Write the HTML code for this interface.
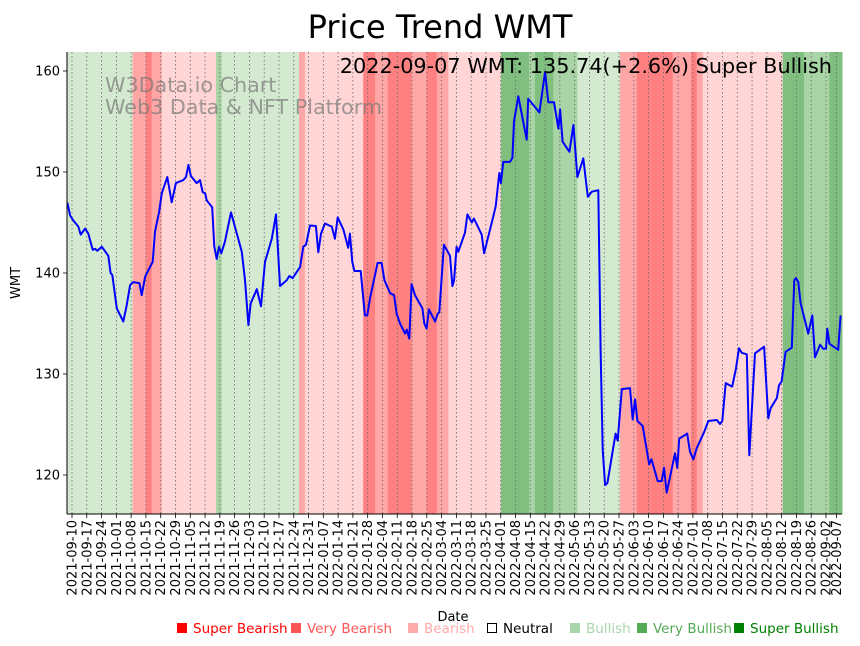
<!DOCTYPE html>
<html><head><meta charset="utf-8"><style>
html,body{margin:0;padding:0;background:#fff;}
svg{display:block;font-family:"DejaVu Sans","Liberation Sans",sans-serif;}
</style></head><body>
<svg id="chart" width="860" height="646" viewBox="0 0 860 646" xmlns="http://www.w3.org/2000/svg">
<text x="440" y="38" font-size="32" text-anchor="middle" fill="#000">Price Trend WMT</text>
<g id="bands"></g>
<g id="grid"></g>
<text x="105" y="92" font-size="20.7" fill="#777" fill-opacity="0.7">W3Data.io Chart</text>
<text x="105" y="114" font-size="20.7" fill="#777" fill-opacity="0.7">Web3 Data &amp; NFT Platform</text>
<path id="line" fill="none" stroke="#0000ff" stroke-width="2" stroke-linejoin="round"/>
<text x="832" y="73" font-size="20.8" text-anchor="end" fill="#000">2022-09-07 WMT: 135.74(+2.6%) Super Bullish</text>
<g id="axes"></g>
<text transform="translate(20,283) rotate(-90)" font-size="13" text-anchor="middle">WMT</text>
<text x="453" y="621" font-size="13" text-anchor="middle">Date</text>
<g id="legend"></g>
</svg>
<script>
// data: days since 2021-09-10, price
const days = [-2.2,-0.9,0.6,3.0,4.1,6.2,7.7,9.8,10.9,12.0,14.1,17.2,18.3,19.1,21.2,24.3,25.9,27.5,29.0,31.9,33.0,34.6,35.7,38.2,39.3,41.3,42.5,45.1,47.2,49.2,52.7,54.0,55.1,56.3,59.0,60.6,61.9,63.0,63.8,66.4,67.4,68.5,69.6,70.7,72.4,75.3,80.4,81.9,83.5,84.6,87.5,89.5,91.4,94.6,96.6,98.5,101.7,102.9,104.5,108.0,109.5,110.8,112.7,115.5,116.6,117.9,119.8,121.8,123.0,124.5,125.8,128.5,130.8,131.6,132.7,133.7,136.7,138.7,139.8,141.1,144.7,146.6,147.9,150.6,152.5,153.7,155.3,157.7,158.5,159.7,160.8,162.4,165.9,166.8,167.9,169.0,171.9,173.2,173.9,176.1,179.0,180.1,180.9,182.1,182.9,186.1,187.2,189.3,190.3,194.0,195.1,199.5,200.6,202.3,203.1,204.2,207.4,208.5,209.3,211.3,215.3,216.0,221.3,224.0,225.5,228.2,230.3,231.1,232.3,235.5,237.4,239.3,242.1,244.2,246.1,249.2,250.3,251.3,252.4,253.5,257.4,258.4,260.3,264.2,265.5,266.6,267.7,270.2,273.3,274.4,277.3,279.2,280.3,281.6,285.5,286.6,287.5,291.3,292.6,294.2,295.8,299.2,301.3,305.3,306.8,307.9,309.5,312.6,314.4,315.8,317.1,319.5,320.7,323.4,327.7,329.7,330.8,333.7,334.8,336.0,337.9,340.8,342.0,342.8,343.9,345.0,348.6,350.5,351.8,354.2,355.7,357.0,357.6,358.6,362.8,363.9];
const prices = [146.96,145.7,145.2,144.6,143.8,144.4,143.9,142.3,142.4,142.2,142.6,141.7,140.0,139.8,136.5,135.2,136.8,138.8,139.1,139.0,137.8,139.6,140.1,141.1,144.1,146.1,147.9,149.5,147.0,148.9,149.2,149.5,150.7,149.6,148.9,149.2,148.0,147.9,147.2,146.5,142.6,141.4,142.6,141.95,143.1,146.0,142.1,139.3,134.85,137.0,138.4,136.7,141.1,143.4,145.8,138.7,139.3,139.7,139.5,140.6,142.6,142.8,144.7,144.65,142.05,143.9,144.9,144.7,144.6,143.4,145.5,144.3,142.5,143.9,141.1,140.2,140.2,135.8,135.8,137.5,141.0,141.0,139.3,138.0,137.8,136.0,135.0,134.0,134.4,133.5,138.9,137.8,136.5,135.0,134.5,136.4,135.2,136.0,136.1,142.8,141.7,138.7,139.3,142.6,142.1,144.0,145.8,145.0,145.4,143.8,141.95,145.6,146.6,149.9,148.9,151.0,151.0,151.4,155.0,157.5,153.2,157.25,155.9,159.9,156.9,156.9,154.3,156.2,153.0,152.0,154.65,149.5,151.35,147.55,148.05,148.2,132.4,122.5,119.0,119.2,124.1,123.4,128.5,128.6,125.5,127.5,125.35,124.85,121.05,121.55,119.4,119.4,120.7,118.25,122.15,120.7,123.6,124.1,122.3,121.55,122.65,124.2,125.35,125.45,125.05,125.35,129.1,128.75,130.55,132.55,132.1,131.95,121.95,132.05,132.7,125.6,126.6,127.6,128.9,129.25,132.2,132.6,139.3,139.5,139.1,137.0,134.0,135.8,131.65,132.9,132.5,132.5,134.5,133.0,132.4,135.8];
const bandStarts = [-3,28.7,35.0,37.7,42.5,68.2,70.9,107.5,110.3,137.9,143.5,149.5,160.8,167.9,172.7,178.2,203.1,216.4,219.2,227.9,239.3,259.5,267.4,284.4,293.1,295.8,298.6,336.5,346.6,358.6];
const bandEnds   = [28.7,35.0,37.7,42.5,68.2,70.9,107.5,110.3,137.9,143.5,149.5,160.8,167.9,172.7,178.2,203.1,216.4,219.2,227.9,239.3,259.5,267.4,284.4,293.1,295.8,298.6,336.5,346.6,358.6,366];
const bandCats   = ['G1','B2','B3','B2','B1','G2','G1','B2','B1','B3','B2','B3','B2','B3','B2','B1','G3','G2','G3','G2','G1','B2','B3','B2','B3','B2','B1','G3','G2','G3'];
const yTicks = [120,130,140,150,160];
const legendLabels = ['Super Bearish','Very Bearish','Bearish','Neutral','Bullish','Very Bullish','Super Bullish'];
const legendColors = ['#ff0000','#ff5555','#ffaaaa','#000000','#aad4aa','#55aa55','#008000'];

const NS='http://www.w3.org/2000/svg';
const L=67,R=842,T=52,B=514;
const x=d=>72+d*2.112;
const y=p=>475-(p-120)*10.1;
const bandColor={G1:'#d4ead0',G2:'#a9d5a6',G3:'#80bf80',B1:'#ffd5d5',B2:'#ffa6a6',B3:'#ff8080'};
function mk(tag,attrs,parent){const e=document.createElementNS(NS,tag);for(const k in attrs)e.setAttribute(k,attrs[k]);parent.appendChild(e);return e;}

const bands=document.getElementById('bands');
bandStarts.forEach((s,i)=>{
  const x0=Math.max(L,x(s)),x1=Math.min(R,x(bandEnds[i]));
  const r=mk('rect',{x:x0,y:T,width:Math.max(0,x1-x0+0.5),height:B-T,fill:bandColor[bandCats[i]]},bands);
  
  
});

const grid=document.getElementById('grid'),axes=document.getElementById('axes');
const start=new Date(Date.UTC(2021,8,10));
const tickDays=[];for(let k=0;k<=51;k++)tickDays.push(k*7);tickDays.push(362);
tickDays.forEach(d=>{
  const xx=x(d);
  mk('line',{x1:xx,x2:xx,y1:T,y2:B,stroke:'#666','stroke-width':0.8,'stroke-dasharray':'1.5,2.5'},grid);
  mk('line',{x1:xx,x2:xx,y1:B,y2:B+4,stroke:'#000','stroke-width':0.8},axes);
  const dt=new Date(start.getTime()+d*86400000);
  const s=dt.toISOString().slice(0,10);
  const t=mk('text',{transform:`translate(${xx+4.5},${B+6}) rotate(-90)`,'font-size':13,'text-anchor':'end'},axes);
  
  
  t.textContent=s;
});
yTicks.forEach(v=>{
  const yy=y(v);
  mk('line',{x1:L-4,x2:L,y1:yy,y2:yy,stroke:'#000','stroke-width':0.8},axes);
  const t=mk('text',{x:L-7,y:yy+4.5,'font-size':13,'text-anchor':'end'},axes);
  
  
  t.textContent=v;
});
mk('line',{x1:L,x2:L,y1:T,y2:B,stroke:'#000','stroke-width':1},axes);
mk('line',{x1:L,x2:R,y1:B,y2:B,stroke:'#000','stroke-width':1},axes);

document.getElementById('line').setAttribute('d',days.map((d,i)=>(i?'L':'M')+x(d).toFixed(1)+','+y(prices[i]).toFixed(1)).join(''));

const legend=document.getElementById('legend');
const lx=[176,290,407,486,569,636,733];
legendLabels.forEach((lab,i)=>{
  const g=mk('g',{},legend);
  
  
  if(i===3) mk('rect',{x:lx[i]+1.5,y:623.5,width:9,height:9,fill:'none',stroke:'#000','stroke-width':1},g);
  else mk('rect',{x:lx[i]+1,y:623,width:10,height:10,fill:legendColors[i]},g);
  const t=mk('text',{x:lx[i]+17,y:633,'font-size':13.5,fill:legendColors[i]},g);
  t.textContent=lab;
});
</script>
</body></html>
